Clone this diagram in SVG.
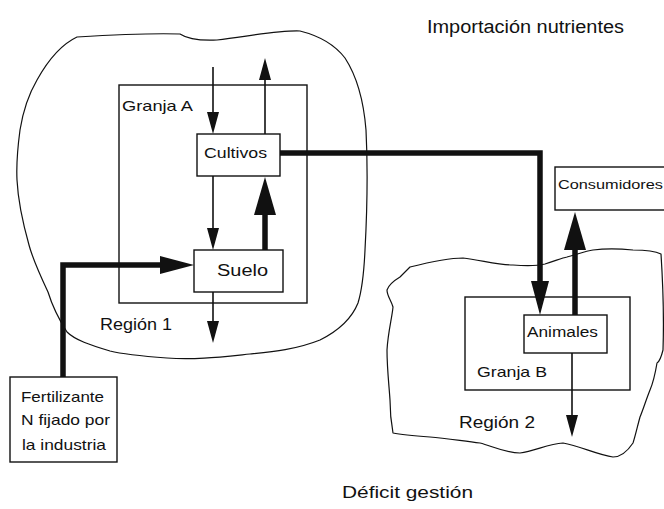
<svg xmlns="http://www.w3.org/2000/svg" width="664" height="509" viewBox="0 0 664 509">
  <style>
    text { font-family: "Liberation Sans", Arial, sans-serif; fill: #111; }
    .box { fill: #fff; stroke: #111; stroke-width: 1.4; }
    .frame { fill: none; stroke: #111; stroke-width: 1.4; }
    .blob { fill: none; stroke: #111; stroke-width: 1.2; stroke-linejoin: round; }
    .thin { fill: none; stroke: #111; stroke-width: 1.6; }
    .thick { fill: none; stroke: #111; stroke-width: 5.5; stroke-linejoin: miter; }
  </style>
  <defs>
    <marker id="head-thin" markerUnits="userSpaceOnUse" orient="auto" refX="0" refY="6" markerWidth="22" markerHeight="12" overflow="visible">
      <path d="M0,0 L22,6 L0,12 Z" fill="#111"/>
    </marker>
    <marker id="head-thick" markerUnits="userSpaceOnUse" orient="auto" refX="0" refY="11" markerWidth="38" markerHeight="22" overflow="visible">
      <path d="M0,0 L38,11 L0,22 Z" fill="#111"/>
    </marker>
    <marker id="head-mid" markerUnits="userSpaceOnUse" orient="auto" refX="0" refY="9" markerWidth="34" markerHeight="18" overflow="visible">
      <path d="M0,0 L34,9 L0,18 Z" fill="#111"/>
    </marker>
  </defs>

  <rect width="664" height="509" fill="#fff"/>

  <!-- regions -->
  <g id="region-1">
    <path class="blob" d="M77,37 C110,35 150,33 180,34 C186,38 195,41 217,40 C250,36 280,30 300,31 C320,36 335,45 345,58 C358,78 364,105 366,130 C368,170 367,213 365,250 C364,272 362,290 358,303 C352,318 340,330 320,340 C295,350 270,352 250,354 C220,357 195,360 167,358 C140,356 122,354 110,351 C90,345 75,340 67,332 C58,318 52,305 48,292 C40,275 33,260 29,245 C22,220 18,200 17,180 C16,160 18,145 20,130 C24,105 30,92 37,80 C47,62 60,45 77,37 Z"/>
    <text x="100" y="330" font-size="16" textLength="72" lengthAdjust="spacingAndGlyphs">Región 1</text>
  </g>

  <g id="region-2">
    <path class="blob" d="M410,267 C430,262 450,258 463,258 C480,260 500,265 513,265 C525,266 537,266 545,264 C555,261 562,258 567,257 C578,254 586,251 593,250 C610,248 622,249 633,250 C645,250 655,251 661,254 C663,285 664,320 663,350 C661,358 659,362 657,363 C655,375 653,383 650,390 C646,400 643,410 640,417 C637,428 635,437 633,443 C627,452 620,457 613,457 C598,455 580,446 563,443 C548,444 535,451 520,453 C505,453 492,446 480,443 C462,441 446,438 430,437 C415,436 402,435 393,433 C391,422 390,410 390,400 C389,385 387,368 387,350 C388,332 392,318 393,307 C391,300 387,296 387,290 C389,284 395,280 400,277 C404,273 407,270 410,267 Z"/>
    <text x="459" y="428" font-size="16" textLength="76" lengthAdjust="spacingAndGlyphs">Región 2</text>
  </g>

  <!-- farm frames -->
  <g id="granja-a">
    <rect class="frame" x="119" y="85" width="188" height="218"/>
    <text x="122" y="111" font-size="15" textLength="71" lengthAdjust="spacingAndGlyphs">Granja A</text>
  </g>

  <g id="granja-b">
    <rect class="frame" x="465" y="297" width="165" height="93"/>
    <text x="477" y="377" font-size="15" textLength="70" lengthAdjust="spacingAndGlyphs">Granja B</text>
  </g>

  <!-- connectors -->
  <g id="connectors">
    <line class="thin" x1="213" y1="67" x2="213" y2="112" marker-end="url(#head-thin)"/>
    <line class="thin" x1="265" y1="134" x2="265" y2="80" marker-end="url(#head-thin)"/>
    <line class="thin" x1="213" y1="176" x2="213" y2="228" marker-end="url(#head-thin)"/>
    <line class="thin" x1="213" y1="292" x2="213" y2="321" marker-end="url(#head-thin)"/>
    <line class="thin" x1="572" y1="353" x2="572" y2="415" marker-end="url(#head-thin)"/>
    <line class="thick" x1="265" y1="250" x2="265" y2="215" marker-end="url(#head-thick)"/>
    <line class="thick" x1="575" y1="315" x2="575" y2="250" marker-end="url(#head-thick)"/>
    <path class="thick" d="M280,153 H540 V281" marker-end="url(#head-mid)"/>
    <path class="thick" d="M63,377 V265 H160" marker-end="url(#head-mid)"/>
  </g>

  <!-- nodes -->
  <g id="cultivos">
    <rect class="box" x="197" y="134" width="83" height="42"/>
    <text x="204" y="158" font-size="14" textLength="63" lengthAdjust="spacingAndGlyphs">Cultivos</text>
  </g>

  <g id="suelo">
    <rect class="box" x="194" y="250" width="89" height="42"/>
    <text x="217" y="276" font-size="16" textLength="51" lengthAdjust="spacingAndGlyphs">Suelo</text>
  </g>

  <g id="animales">
    <rect class="box" x="524" y="315" width="83" height="38"/>
    <text x="527" y="337" font-size="14" textLength="71" lengthAdjust="spacingAndGlyphs">Animales</text>
  </g>

  <g id="consumidores">
    <rect class="box" x="555" y="167" width="110" height="43"/>
    <text x="558" y="189" font-size="13" textLength="105" lengthAdjust="spacingAndGlyphs">Consumidores</text>
  </g>

  <g id="fertilizante">
    <rect class="box" x="10" y="377" width="107" height="85"/>
    <text x="21" y="402" font-size="15" textLength="83" lengthAdjust="spacingAndGlyphs">Fertilizante</text>
    <text x="21" y="425" font-size="15" textLength="89" lengthAdjust="spacingAndGlyphs">N fijado por</text>
    <text x="22" y="450" font-size="15" textLength="84" lengthAdjust="spacingAndGlyphs">la industria</text>
  </g>

  <!-- captions -->
  <text x="427" y="33" font-size="18" textLength="197" lengthAdjust="spacingAndGlyphs">Importación nutrientes</text>
  <text x="342" y="498" font-size="16" textLength="131" lengthAdjust="spacingAndGlyphs">Déficit gestión</text>
</svg>
